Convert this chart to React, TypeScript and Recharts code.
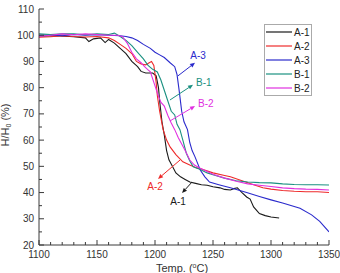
import { LineChart, Line, XAxis, YAxis, Legend, ReferenceLine } from "recharts";

// [temperature °C, H/H0 %]
const a1 = [
  [1100, 99.6], [1115, 99.8], [1130, 99.4], [1140, 99.0], [1143, 97.6], [1147, 98.6],
  [1153, 99.0], [1157, 97.2], [1160, 98.4], [1165, 97.0], [1170, 95.0], [1175, 93.0],
  [1180, 90.0], [1185, 88.0], [1188, 86.2], [1192, 85.6], [1198, 85.6], [1201, 84.5],
  [1203, 80], [1204, 75], [1206, 67], [1208, 62], [1210, 56], [1212, 52.5], [1215, 50],
  [1218, 47.5], [1222, 46], [1226, 45], [1230, 44], [1235, 43.5], [1240, 43], [1245, 42.8],
  [1250, 42.2], [1256, 41.8], [1260, 41.2], [1265, 41], [1268, 41.5], [1271, 41.8],
  [1275, 40], [1279, 38.3], [1282, 37.5], [1285, 34.5], [1290, 32], [1295, 31.2],
  [1300, 30.7], [1307, 30.3],
];
const a2 = [
  [1100, 99.2], [1110, 99.4], [1120, 99.8], [1130, 99.5], [1140, 99.3], [1150, 99.5],
  [1160, 99.0], [1165, 98], [1170, 96.5], [1175, 95], [1180, 93], [1184, 90], [1188, 89],
  [1192, 88.7], [1195, 89.5], [1197, 90], [1199, 88.5], [1201, 82], [1202, 77], [1204, 71],
  [1207, 64], [1210, 60], [1213, 57.4], [1218, 54.5], [1224, 51.7], [1230, 50.5],
  [1236, 49.4], [1240, 49], [1250, 47.5], [1260, 46.5], [1265, 46], [1275, 44.5],
  [1285, 43], [1293, 41.8], [1300, 41.3], [1310, 40.8], [1320, 40.5], [1330, 40.3],
  [1340, 40.3], [1350, 40],
];
const a3 = [
  [1100, 100], [1110, 100.2], [1120, 99.8], [1130, 100.3], [1140, 100], [1150, 100.2],
  [1160, 100], [1170, 99.8], [1175, 99.5], [1180, 99], [1185, 98], [1190, 96.5],
  [1196, 95], [1200, 93.5], [1204, 92.5], [1208, 91.5], [1213, 89.5], [1217, 88],
  [1219, 85], [1220.5, 80], [1221.5, 76.5], [1223, 71], [1225, 67], [1228, 64],
  [1230, 59], [1232, 56], [1234.5, 53.6], [1239, 48.6], [1243, 46], [1247, 44],
  [1255, 43], [1265, 41.8], [1279, 40], [1290, 38.5], [1300, 37.2], [1310, 36],
  [1325, 34], [1335, 31.5], [1342, 29], [1350, 25],
];
const b1 = [
  [1100, 100.5], [1110, 100.3], [1120, 100.5], [1130, 100.5], [1140, 100.2], [1150, 100.5],
  [1160, 100.3], [1165, 100.8], [1170, 99.5], [1175, 98], [1180, 96], [1185, 93.5],
  [1190, 91], [1194, 88.5], [1198, 87], [1202, 86], [1205, 83], [1208, 79], [1211, 75],
  [1214, 71], [1217, 69.6], [1219, 66], [1221.5, 64], [1224, 60], [1227, 55], [1230, 52],
  [1233, 49.8], [1238, 49], [1245, 47.5], [1250, 46.8], [1260, 45.5], [1270, 44.5],
  [1280, 44], [1290, 43.8], [1300, 43.7], [1310, 43.3], [1320, 43.1], [1330, 43],
  [1340, 43], [1350, 42.9],
];
const b2 = [
  [1100, 99.5], [1110, 100], [1120, 100.5], [1130, 100.2], [1140, 100.5], [1150, 100.3],
  [1160, 100], [1168, 100], [1172, 99.4], [1176, 97], [1180, 93.5], [1184, 91],
  [1188, 89.5], [1191, 88], [1194, 86.8], [1196, 86], [1199, 82], [1202, 78], [1205, 74.5],
  [1208, 73], [1211, 69.5], [1214, 66.5], [1217, 64], [1220, 61], [1223, 58.5],
  [1226, 56], [1230, 52.4], [1234, 50.5], [1238, 49.5], [1245, 48], [1250, 47],
  [1260, 45.5], [1270, 44.3], [1280, 43.3], [1290, 42.8], [1300, 42.3], [1310, 41.8],
  [1320, 41.5], [1330, 41.3], [1340, 41.2], [1350, 41],
];

const xLabels = [1100, 1150, 1200, 1250, 1300, 1350];
const yLabels = [20, 30, 40, 50, 60, 70, 80, 90, 100, 110];

const seriesNames = ["A-1", "A-2", "A-3", "B-1", "B-2"];
const seriesData = [a1, a2, a3, b1, b2];
const colors = ["#1a1a1a", "#ee2a2a", "#2a2acc", "#1a9080", "#e030e0"];

// arrows from curve to label: [tail, head] in data units
const notes = [
  { name: "A-3", from: [1219.8, 84.5], to: [1234.5, 89.5], dx: 3, dy: -4, anchor: "middle" },
  { name: "B-1", from: [1212.9, 75.3], to: [1232.8, 81.1], dx: 3, dy: 1, anchor: "start" },
  { name: "B-2", from: [1212.9, 67.3], to: [1234.5, 73], dx: 3, dy: 1, anchor: "start" },
  { name: "A-2", from: [1221.6, 52.4], to: [1202.6, 45.2], dx: -3, dy: 11, anchor: "middle" },
  { name: "A-1", from: [1231.9, 44], to: [1223.3, 39.8], dx: -4, dy: 12, anchor: "middle" },
];

const font = "'Liberation Sans', Arial, sans-serif";
const frame = "#3a3a3a";

const xTicks: number[] = [];
for (let t = 1100; t <= 1350; t += 10) xTicks.push(t);
const yTicks: number[] = [];
for (let v = 20; v <= 110; v += 5) yTicks.push(v);

const toPts = (arr: number[][]) => arr.map(([t, v]) => ({ t, v }));

const BottomTick = (p: any) => {
  const major = xLabels.includes(p.payload.value);
  return (
    <g>
      <line x1={p.x} y1={p.y} x2={p.x} y2={p.y - (major ? 5 : 3)} stroke={frame} />
      {major && (
        <text x={p.x} y={p.y + 13} textAnchor="middle" fontSize={10} fill="#333" fontFamily={font}>
          {p.payload.value}
        </text>
      )}
    </g>
  );
};
const TopTick = (p: any) => {
  const major = xLabels.includes(p.payload.value);
  return <line x1={p.x} y1={p.y} x2={p.x} y2={p.y + (major ? 5 : 3)} stroke={frame} />;
};
const LeftTick = (p: any) => {
  const major = yLabels.includes(p.payload.value);
  return (
    <g>
      <line x1={p.x} y1={p.y} x2={p.x + (major ? 5 : 3)} y2={p.y} stroke={frame} />
      {major && (
        <text x={p.x - 5} y={p.y + 3.5} textAnchor="end" fontSize={10} fill="#333" fontFamily={font}>
          {p.payload.value}
        </text>
      )}
    </g>
  );
};
const RightTick = (p: any) => {
  const major = yLabels.includes(p.payload.value);
  return <line x1={p.x} y1={p.y} x2={p.x - (major ? 5 : 3)} y2={p.y} stroke={frame} />;
};

const xTitle = (p: any) => {
  const vb = p.viewBox;
  return (
    <text x={vb.x + vb.width / 2 - 2} y={vb.y + 27} textAnchor="middle" fontSize={11} fill="#333" fontFamily={font}>
      Temp. (<tspan fontSize={7} dy={-4}>o</tspan>
      <tspan dy={4}>C)</tspan>
    </text>
  );
};
const yTitle = (p: any) => {
  const vb = p.viewBox;
  const cx = vb.x + 9;
  const cy = vb.y + vb.height / 2 - 2;
  return (
    <text transform={`translate(${cx},${cy}) rotate(-90)`} textAnchor="middle" fontSize={11} fill="#333" fontFamily={font}>
      H/H<tspan fontSize={7} dy={2}>0</tspan>
      <tspan dy={-2}> (%)</tspan>
    </text>
  );
};

const arrowShape = (color: string, label: string, dx: number, dy: number, anchor: string) => (p: any) => {
  const { x1, y1, x2, y2 } = p;
  if (x1 == null || x2 == null) return <g />;
  const a = Math.atan2(y2 - y1, x2 - x1);
  const bx = x2 - 5 * Math.cos(a);
  const by = y2 - 5 * Math.sin(a);
  const w = 2.2;
  const pts = `${x2},${y2} ${bx - w * Math.sin(a)},${by + w * Math.cos(a)} ${bx + w * Math.sin(a)},${by - w * Math.cos(a)}`;
  return (
    <g>
      <line x1={x1} y1={y1} x2={bx} y2={by} stroke={color} strokeWidth={1} />
      <polygon points={pts} fill={color} />
      <text x={x2 + dx} y={y2 + dy} textAnchor={anchor as any} fontSize={10} fill={color} fontFamily={font}>
        {label}
      </text>
    </g>
  );
};

const renderLegend = () => (
  <svg width={48} height={72} style={{ display: "block" }}>
    <rect x={0.5} y={0.5} width={47} height={71} fill="#fff" stroke="#aaa" />
    {seriesNames.map((n, i) => (
      <g key={n}>
        <line x1={2} x2={28} y1={8 + i * 14} y2={8 + i * 14} stroke={colors[i]} strokeWidth={1.2} />
        <text x={30} y={11.5 + i * 14} fontSize={10} fill="#222" fontFamily={font}>
          {n}
        </text>
      </g>
    ))}
  </svg>
);

export default function App() {
  return (
    <div style={{ position: "absolute", left: 0, top: 0, background: "#fff" }}>
      <LineChart width={340} height={273} margin={{ top: 9, right: 11, bottom: 0, left: 0 }}>
        <XAxis
          type="number"
          dataKey="t"
          domain={[1100, 1350]}
          ticks={xTicks}
          interval={0}
          height={28}
          tickSize={0}
          tickMargin={0}
          tickLine={false}
          axisLine={{ stroke: frame }}
          tick={BottomTick}
          label={xTitle}
          allowDataOverflow
        />
        <XAxis
          xAxisId="top"
          orientation="top"
          type="number"
          dataKey="t"
          domain={[1100, 1350]}
          ticks={xTicks}
          interval={0}
          height={0}
          tickSize={0}
          tickMargin={0}
          tickLine={false}
          axisLine={{ stroke: frame }}
          tick={TopTick}
          allowDataOverflow
        />
        <YAxis
          type="number"
          domain={[20, 110]}
          ticks={yTicks}
          interval={0}
          width={39}
          tickSize={0}
          tickMargin={0}
          tickLine={false}
          axisLine={{ stroke: frame }}
          tick={LeftTick}
          label={yTitle}
          allowDataOverflow
        />
        <YAxis
          yAxisId="right"
          orientation="right"
          type="number"
          domain={[20, 110]}
          ticks={yTicks}
          interval={0}
          width={0}
          tickSize={0}
          tickMargin={0}
          tickLine={false}
          axisLine={{ stroke: frame }}
          tick={RightTick}
          allowDataOverflow
        />
        <Legend
          layout="vertical"
          align="center"
          verticalAlign="middle"
          content={renderLegend}
          wrapperStyle={{ left: 264, top: 24, width: 48 }}
        />
        {seriesData.map((d, i) => (
          <Line
            key={seriesNames[i]}
            data={toPts(d)}
            dataKey="v"
            name={seriesNames[i]}
            stroke={colors[i]}
            strokeWidth={1.1}
            dot={false}
            type="linear"
            isAnimationActive={false}
          />
        ))}
        {notes.map((n) => {
          const c = colors[seriesNames.indexOf(n.name)];
          return (
            <ReferenceLine
              key={n.name}
              segment={[
                { x: n.from[0], y: n.from[1] },
                { x: n.to[0], y: n.to[1] },
              ]}
              shape={arrowShape(c, n.name, n.dx, n.dy, n.anchor)}
            />
          );
        })}
      </LineChart>
    </div>
  );
}
